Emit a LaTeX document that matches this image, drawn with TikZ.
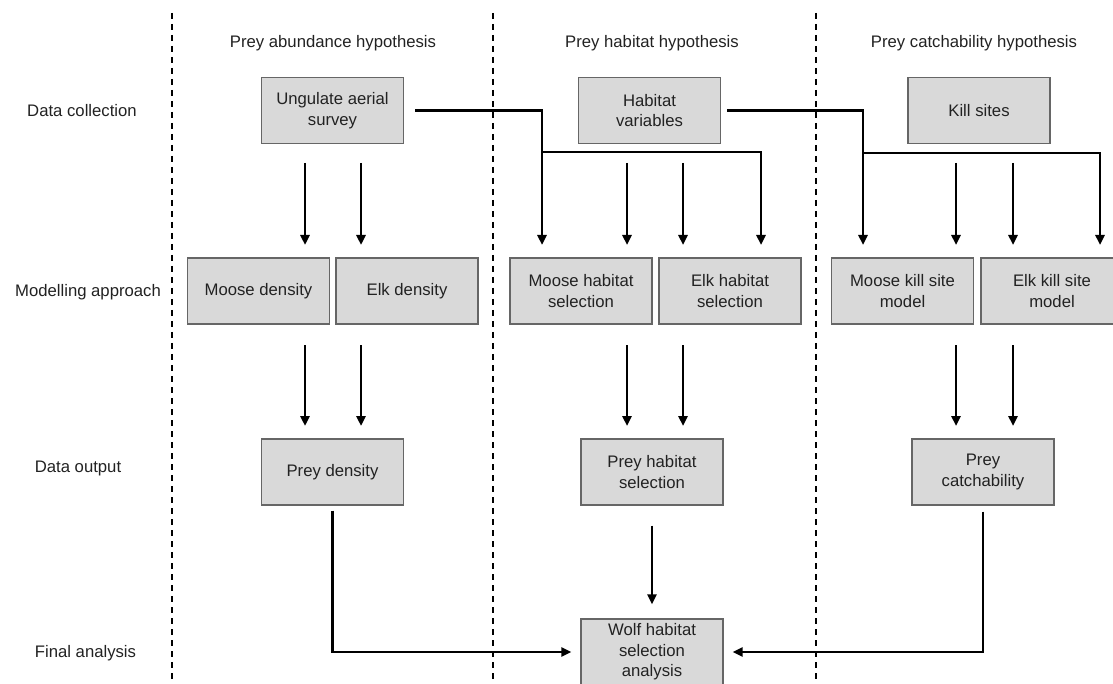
\documentclass[tikz,border=0pt]{standalone}
\usepackage{fontspec}
\setmainfont{Liberation Sans}
\usetikzlibrary{arrows.meta}
\definecolor{boxfill}{HTML}{D9D9D9}
\definecolor{boxline}{HTML}{666666}
\definecolor{txt}{HTML}{222222}
\newcommand{\fs}{\fontsize{16.7}{20.5}\selectfont}
\begin{document}
\begin{tikzpicture}[x=1pt,y=-1pt,
  box/.style={draw=boxline, fill=boxfill, line width=1.4pt, minimum width=142pt,
              minimum height=66pt, align=center, inner sep=2pt, text=txt, font=\fs},
  lab/.style={text=txt, font=\fs, inner sep=0pt, align=center},
  conn/.style={line width=2.6pt, draw=black},
  arr/.style={conn, -{Triangle[width=9pt,length=10pt]}},
  divider/.style={line width=1.7pt, dash pattern=on 6pt off 5pt}]
\useasboundingbox (0,0) rectangle (1113,684);
\clip (0,0) rectangle (1113,684);

% dividers
\draw[divider] (172,13) -- (172,690);
\draw[divider] (493,13) -- (493,690);
\draw[divider] (816,13) -- (816,690);

% headers
\node[lab] (h1) at (333,43) {Prey abundance hypothesis};
\node[lab] (h2) at (652,43) {Prey habitat hypothesis};
\node[lab] (h3) at (974,43) {Prey catchability hypothesis};

% row labels
\node[lab] (r1) at (82,111) {Data collection};
\node[lab] (r2) at (88,292) {Modelling approach};
\node[lab] (r3) at (78,468) {Data output};
\node[lab] (r4) at (85.5,653) {Final analysis};

% boxes
\node[box] (ung) at (332.5,110.5) {Ungulate aerial\\survey};
\node[box] (hv) at (649.5,110.5) {Habitat\\variables};
\node[box] (ks) at (979,110.5) {Kill sites};

\node[box] (mooseD) at (258.5,291) {Moose density};
\node[box] (elkD) at (407,291) {Elk density};
\node[box] (mooseH) at (581,291) {Moose habitat\\selection};
\node[box] (elkH) at (730,291) {Elk habitat\\selection};
\node[box] (mooseK) at (902.5,291) {Moose kill site\\model};
\node[box] (elkK) at (1052,291) {Elk kill site\\model};

\node[box] (preyD) at (332.5,472) {Prey density};
\node[box] (preyH) at (652,472) {Prey habitat\\selection};
\node[box] (preyC) at (983,472) {Prey\\catchability};

\node[box] (wolf) at (652,652) {Wolf habitat\\selection\\analysis};

% top row straight arrows
\foreach \x/\n in {305/a,361/b,627/c,683/d,956/e,1013/f}{
  \coordinate (ts\n) at (\x,163);
  \coordinate (te\n) at (\x,245);
  \draw[arr] (ts\n) -- (te\n);
}
% middle row straight arrows
\foreach \x/\n in {305/a,361/b,627/c,683/d,956/e,1013/f}{
  \coordinate (ms\n) at (\x,345);
  \coordinate (me\n) at (\x,426);
  \draw[arr] (ms\n) -- (me\n);
}

% branching connectors from ungulate survey
\coordinate (uA) at (542,245);
\coordinate (uJ) at (542,152);
\coordinate (uB) at (761,245);
\draw[arr] ([xshift=11pt]ung.east) -| (uA);
\draw[arr] (uJ) -| (uB);

% branching connectors from habitat variables
\coordinate (vA) at (863,245);
\coordinate (vJ) at (863,153);
\coordinate (vB) at (1100,245);
\draw[arr] ([xshift=6pt]hv.east) -| (vA);
\draw[arr] (vJ) -| (vB);

% final analysis connectors
\draw[arr] ([yshift=-5pt]preyD.south) |- ([xshift=-9pt]wolf.west);
\draw[arr] ([yshift=-20pt]preyH.south) -- ([yshift=14pt]wolf.north);
\draw[arr] ([yshift=-6pt]preyC.south) |- ([xshift=9pt]wolf.east);
\end{tikzpicture}
\end{document}
